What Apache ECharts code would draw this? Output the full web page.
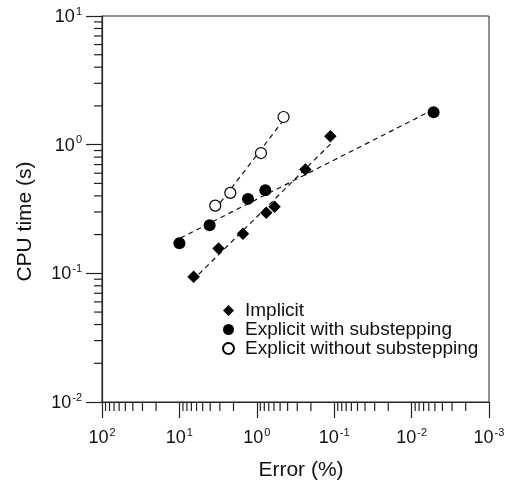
<!DOCTYPE html>
<html>
<head>
<meta charset="utf-8">
<script src="https://cdn.jsdelivr.net/npm/echarts@6/dist/echarts.min.js"></script>
<style>
html,body{margin:0;padding:0;background:#fff;}
#chart{width:521px;height:486px;}
</style>
</head>
<body>
<div id="chart"></div>
<script>
// ---- data (Error % vs CPU time s) ----
const implicitErr = [6.55, 3.12, 1.51, 0.754, 0.589, 0.236, 0.112];
const implicitCpu = [0.094, 0.156, 0.203, 0.296, 0.329, 0.64, 1.16];
const withSubErr = [10.0, 4.07, 1.30, 0.776, 0.0052];
const withSubCpu = [0.171, 0.236, 0.379, 0.442, 1.79];
const withoutSubErr = [3.44, 2.20, 0.883, 0.451];
const withoutSubCpu = [0.336, 0.422, 0.861, 1.64];
const seriesNames = ['Implicit', 'Explicit with substepping', 'Explicit without substepping'];
const xTickExps = [2, 1, 0, -1, -2, -3];
const yTickExps = [-2, -1, 0, 1];

const FONT = '"Liberation Sans", Arial, sans-serif';
const TXT = '#111';

function pairs(xs, ys) { return xs.map((x, i) => [x, ys[i]]); }
// least-squares fit in log-log space, drawn between the extreme x values
function fitLine(xs, ys) {
  const lx = xs.map(Math.log10), ly = ys.map(Math.log10);
  const n = lx.length;
  const mx = lx.reduce((a, b) => a + b, 0) / n;
  const my = ly.reduce((a, b) => a + b, 0) / n;
  let sxx = 0, sxy = 0;
  for (let i = 0; i < n; i++) { sxx += (lx[i] - mx) ** 2; sxy += (lx[i] - mx) * (ly[i] - my); }
  const b = sxy / sxx, a = my - b * mx;
  const x0 = Math.min(...lx), x1 = Math.max(...lx);
  return [[10 ** x0, 10 ** (a + b * x0)], [10 ** x1, 10 ** (a + b * x1)]];
}

const xMin = 10 ** Math.min(...xTickExps), xMax = 10 ** Math.max(...xTickExps);
const yMin = 10 ** Math.min(...yTickExps), yMax = 10 ** Math.max(...yTickExps);

// minor tick positions (2..9 x 10^k) for each decade
const minorData = [];
for (let k = Math.min(...yTickExps); k < Math.max(...yTickExps); k++)
  for (let m = 2; m <= 9; m++) minorData.push([xMax, m * 10 ** k, 0]);
for (let k = Math.min(...xTickExps); k < Math.max(...xTickExps); k++)
  for (let m = 2; m <= 9; m++) minorData.push([m * 10 ** k, yMin, 1]);

function expLabel(v) {
  const e = Math.round(Math.log10(v));
  return '{b|10}{s|' + e + '}';
}
const richLab = {
  b: { fontSize: 18, fontFamily: FONT, color: TXT, lineHeight: 20, verticalAlign: 'bottom' },
  s: { fontSize: 11, fontFamily: FONT, color: TXT, lineHeight: 14, verticalAlign: 'top', padding: [0, 0, 0, 1] }
};

const dashStyle = { color: '#111', width: 1.2, type: [5, 4] };

const chart = echarts.init(document.getElementById('chart'), null, { renderer: 'canvas' });
chart.setOption({
  animation: false,
  backgroundColor: '#fff',
  grid: { left: 102, right: 32, top: 16, bottom: 83, show: true, borderColor: '#222', borderWidth: 1 },
  xAxis: {
    type: 'log', logBase: 10, min: xMin, max: xMax, inverse: true,
    name: 'Error (%)', nameLocation: 'middle', nameGap: 58,
    nameTextStyle: { fontSize: 21, fontFamily: FONT, color: TXT, padding: [0, 0, 0, 11] },
    axisLine: { lineStyle: { color: '#222', width: 1.2 } },
    axisTick: { length: 16, lineStyle: { color: '#222', width: 1.2 } },
    axisLabel: { margin: 25, formatter: expLabel, rich: richLab },
    splitLine: { show: false }, minorTick: { show: false }
  },
  yAxis: {
    type: 'log', logBase: 10, min: yMin, max: yMax,
    name: 'CPU time (s)', nameLocation: 'middle', nameGap: 66,
    nameTextStyle: { fontSize: 21, fontFamily: FONT, color: TXT, padding: [0, 25, 0, 0] },
    axisLine: { lineStyle: { color: '#222', width: 1.2 } },
    axisTick: { length: 16, lineStyle: { color: '#222', width: 1.2 } },
    axisLabel: { margin: 20, formatter: expLabel, rich: richLab },
    splitLine: { show: false }, minorTick: { show: false }
  },
  legend: {
    orient: 'vertical', left: 222, top: 301, padding: 0, itemGap: 0,
    itemWidth: 11, itemHeight: 11,
    textStyle: { fontSize: 19, fontFamily: FONT, color: TXT, lineHeight: 19, padding: [0, 0, 0, 6] },
    data: [
      { name: seriesNames[0], icon: 'diamond' },
      { name: seriesNames[1], icon: 'circle' },
      { name: seriesNames[2], icon: 'circle' }
    ]
  },
  series: [
    { type: 'custom', silent: true, clip: false, z: 5, data: minorData,
      renderItem: function (params, api) {
        const p = api.coord([api.value(0), api.value(1)]);
        const kind = api.value(2);
        const shape = kind === 0
          ? { x1: p[0] - 8, y1: p[1], x2: p[0], y2: p[1] }
          : { x1: p[0], y1: p[1], x2: p[0], y2: p[1] + 9 };
        return { type: 'line', shape: shape, style: { stroke: '#222', lineWidth: 1.2 } };
      }
    },
    { type: 'line', name: 'fitImplicit', data: fitLine(implicitErr, implicitCpu), symbol: 'none', lineStyle: dashStyle, z: 1, silent: true },
    { type: 'line', name: 'fitWith', data: fitLine(withSubErr, withSubCpu), symbol: 'none', lineStyle: dashStyle, z: 1, silent: true },
    { type: 'line', name: 'fitWithout', data: fitLine(withoutSubErr, withoutSubCpu), symbol: 'none', lineStyle: dashStyle, z: 1, silent: true },
    { type: 'scatter', name: seriesNames[0], data: pairs(implicitErr, implicitCpu), symbol: 'diamond', symbolSize: 12.5,
      itemStyle: { color: '#000', opacity: 1 }, z: 3 },
    { type: 'scatter', name: seriesNames[1], data: pairs(withSubErr, withSubCpu), symbol: 'circle', symbolSize: 12,
      itemStyle: { color: '#000', opacity: 1 }, z: 3 },
    { type: 'scatter', name: seriesNames[2], data: pairs(withoutSubErr, withoutSubCpu), symbol: 'circle', symbolSize: 11,
      itemStyle: { color: '#fff', borderColor: '#000', borderWidth: 1.2, opacity: 1 }, z: 3 }
  ]
});
</script>
</body>
</html>
